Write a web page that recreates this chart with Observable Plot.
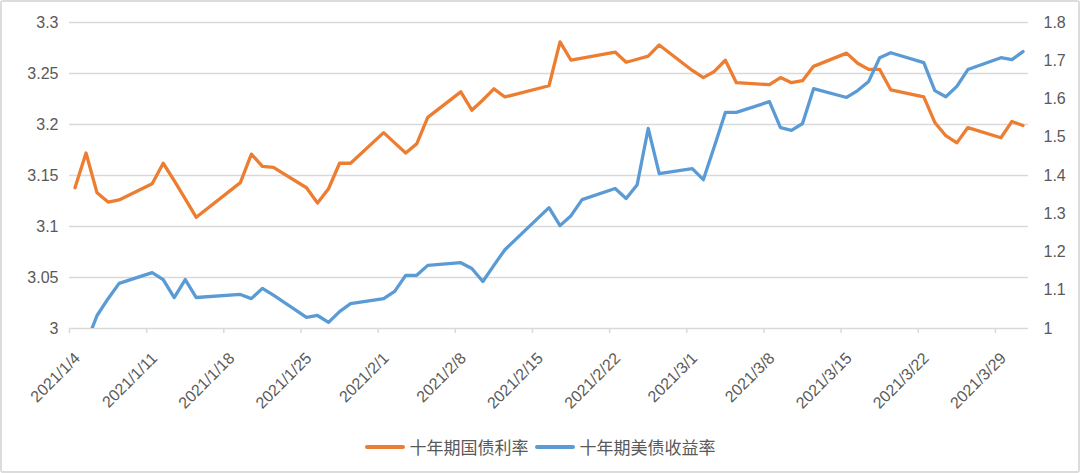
<!DOCTYPE html>
<html><head><meta charset="utf-8">
<script src="https://cdn.jsdelivr.net/npm/d3@7"></script>
<script src="https://cdn.jsdelivr.net/npm/@observablehq/plot@0.6"></script>
<style>
html,body{margin:0;padding:0;background:#fff;}
#wrap{width:1080px;height:473px;box-sizing:border-box;border:2px solid #dcdcdc;border-radius:3px;position:relative;overflow:hidden;background:#fff;}
#chart svg{display:block;}
#legend{position:absolute;left:0;right:0;top:435px;height:20px;display:flex;justify-content:center;align-items:center;font-family:"Noto Sans CJK SC","Noto Sans",sans-serif;font-size:17px;color:#595959;line-height:20px;}
.item{display:flex;align-items:center;margin:0 3px;}
.sw{width:40px;height:4px;border-radius:2px;margin-right:5px;}
</style>
</head><body>
<div id="wrap"><div id="chart"></div><div id="legend"></div></div>
<script>
const seriesNames = ["十年期国债利率", "十年期美债收益率"];
const seriesColors = ["#ED7D31", "#5B9BD5"];
const dates = [
"2021-01-04","2021-01-05","2021-01-06","2021-01-07","2021-01-08","2021-01-11","2021-01-12","2021-01-13","2021-01-14","2021-01-15",
"2021-01-19","2021-01-20","2021-01-21","2021-01-22","2021-01-25","2021-01-26","2021-01-27","2021-01-28","2021-01-29",
"2021-02-01","2021-02-02","2021-02-03","2021-02-04","2021-02-05","2021-02-08","2021-02-09","2021-02-10","2021-02-11","2021-02-12",
"2021-02-16","2021-02-17","2021-02-18","2021-02-19","2021-02-22","2021-02-23","2021-02-24","2021-02-25","2021-02-26",
"2021-03-01","2021-03-02","2021-03-03","2021-03-04","2021-03-05","2021-03-08","2021-03-09","2021-03-10","2021-03-11","2021-03-12",
"2021-03-15","2021-03-16","2021-03-17","2021-03-18","2021-03-19","2021-03-22","2021-03-23","2021-03-24","2021-03-25","2021-03-26",
"2021-03-29","2021-03-30","2021-03-31"];
const cnYield = [
3.138,3.172,3.133,3.124,3.126,3.142,3.162,3.145,3.127,3.109,
3.143,3.171,3.159,3.158,3.138,3.123,3.137,3.162,3.162,
3.192,3.182,3.172,3.181,3.207,3.232,3.214,3.224,3.235,3.227,
3.238,3.281,3.263,3.265,3.271,3.261,3.264,3.267,3.278,
3.253,3.246,3.252,3.263,3.241,3.239,3.246,3.241,3.243,3.257,
3.270,3.260,3.254,3.254,3.234,3.227,3.202,3.189,3.182,3.197,
3.187,3.203,3.199];
const usYield = [
0.93,0.96,1.034,1.078,1.118,1.146,1.128,1.081,1.128,1.081,
1.089,1.078,1.105,1.087,1.029,1.034,1.016,1.044,1.065,
1.078,1.097,1.139,1.139,1.165,1.172,1.157,1.123,1.165,1.206,
1.316,1.269,1.295,1.337,1.366,1.340,1.376,1.523,1.405,
1.418,1.389,1.476,1.565,1.565,1.593,1.525,1.518,1.536,1.627,
1.604,1.622,1.646,1.708,1.721,1.695,1.622,1.606,1.633,1.677,
1.708,1.703,1.724];
const leftTicks = [3, 3.05, 3.1, 3.15, 3.2, 3.25, 3.3];
const rightTicks = [1, 1.1, 1.2, 1.3, 1.4, 1.5, 1.6, 1.7, 1.8];
const xTickLabels = ["2021/1/4","2021/1/11","2021/1/18","2021/1/25","2021/2/1","2021/2/8","2021/2/15","2021/2/22","2021/3/1","2021/3/8","2021/3/15","2021/3/22","2021/3/29"];

const L0 = leftTicks[0], L1 = leftTicks[leftTicks.length-1];
const R0 = rightTicks[0], R1 = rightTicks[rightTicks.length-1];
const toLeft = v => L0 + (v - R0) * (L1 - L0) / (R1 - R0);
const fromLeft = y => R0 + (y - L0) * (R1 - R0) / (L1 - L0);
const parseSlash = s => { const [y,m,d] = s.split("/").map(Number); return new Date(Date.UTC(y, m-1, d)); };
const midDay = s => new Date(s + "T12:00:00Z");
const fmtDate = d => `${d.getUTCFullYear()}/${d.getUTCMonth()+1}/${d.getUTCDate()}`;

const cnData = dates.map((d,i) => ({date: midDay(d), value: cnYield[i]}));
const usData = dates.map((d,i) => ({date: midDay(d), value: toLeft(usYield[i])}));
const xTicks = xTickLabels.map(parseSlash);
const textColor = "#595959";
const font = "'Liberation Sans', Arial, Helvetica, sans-serif";

const chart = Plot.plot({
  width: 1076, height: 410,
  marginLeft: 67, marginRight: 50, marginTop: 20, marginBottom: 84,
  x: {type: "utc", domain: [new Date(Date.UTC(2021,0,4)), new Date(Date.UTC(2021,3,1))], label: null},
  y: {domain: [L0, L1], label: null},
  style: {fontFamily: font, fontSize: "16px", color: textColor, background: "#fff"},
  marks: [
    Plot.ruleY(leftTicks, {stroke: "#d9d9d9", strokeWidth: 1.5}),
    Plot.axisY(leftTicks, {anchor: "left", tickSize: 0, tickPadding: 11, label: null, fontSize: 16, fill: textColor, tickFormat: d => String(d)}),
    Plot.axisY(rightTicks.map(toLeft), {anchor: "right", tickSize: 0, tickPadding: 15, label: null, fontSize: 16, fill: textColor, tickFormat: d => String(+fromLeft(d).toFixed(2))}),
    Plot.axisX(xTicks, {anchor: "bottom", tickSize: 5, stroke: "#d9d9d9", strokeWidth: 1.5, label: null, tickFormat: () => ""}),
    Plot.axisX(xTicks, {anchor: "bottom", tickSize: 0, tickRotate: -45, tickPadding: 27, dx: 8, label: null, fontSize: 16, fill: textColor, tickFormat: fmtDate}),
    Plot.line(cnData, {x: "date", y: "value", stroke: seriesColors[0], strokeWidth: 3.3, clip: true}),
    Plot.line(usData, {x: "date", y: "value", stroke: seriesColors[1], strokeWidth: 3.3, clip: true})
  ]
});
document.getElementById("chart").appendChild(chart);

const legend = document.getElementById("legend");
seriesNames.forEach((name, i) => {
  const it = document.createElement("div"); it.className = "item";
  const sw = document.createElement("div"); sw.className = "sw"; sw.style.background = seriesColors[i];
  const tx = document.createElement("span"); tx.textContent = name;
  it.appendChild(sw); it.appendChild(tx); legend.appendChild(it);
});
</script>
</body></html>
